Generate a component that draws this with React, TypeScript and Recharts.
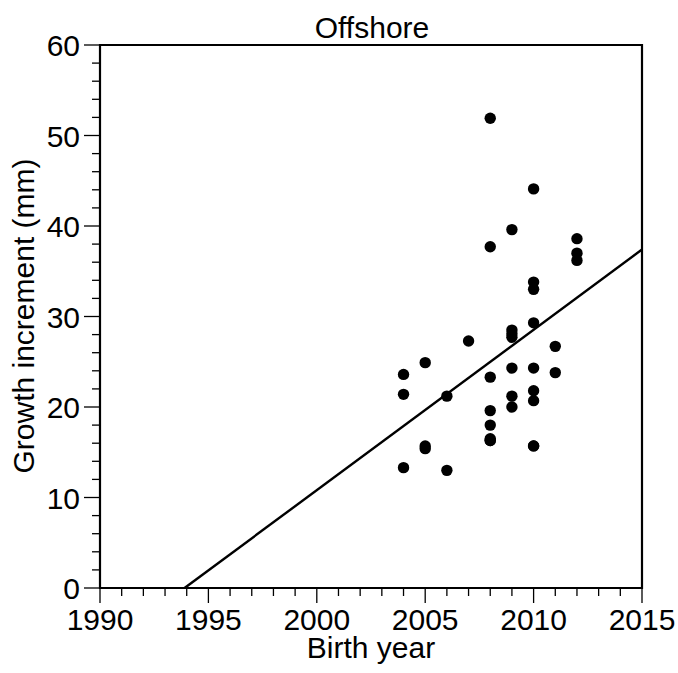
import React from 'react';
import { ScatterChart, Scatter, XAxis, YAxis, ReferenceArea, ReferenceLine } from 'recharts';

// birth year and growth increment (mm) of each fish
const BIRTH_YEARS = [
  2004, 2004, 2004,
  2005, 2005, 2005,
  2006, 2006,
  2007,
  2008, 2008, 2008, 2008, 2008, 2008, 2008, 2008,
  2009, 2009, 2009, 2009, 2009, 2009, 2009,
  2010, 2010, 2010, 2010, 2010, 2010, 2010, 2010, 2010,
  2011, 2011,
  2012, 2012, 2012,
];
const INCREMENTS = [
  23.6, 21.4, 13.3,
  24.9, 15.4, 15.7,
  21.2, 13.0,
  27.3,
  51.9, 37.7, 23.3, 19.6, 18.0, 16.3, 16.5, 16.3,
  39.6, 28.5, 28.1, 27.7, 24.3, 21.2, 20.0,
  44.1, 33.8, 33.0, 29.3, 24.3, 21.8, 20.7, 15.7, 15.7,
  26.7, 23.8,
  38.6, 37.0, 36.2,
];

// fitted regression line end points
const FIT_YEARS = [1993.9, 2015];
const FIT_VALUES = [0, 37.4];

const X_TICKS = [
  1990, 1991, 1992, 1993, 1994, 1995, 1996, 1997, 1998, 1999,
  2000, 2001, 2002, 2003, 2004, 2005, 2006, 2007, 2008, 2009,
  2010, 2011, 2012, 2013, 2014, 2015,
];
const Y_TICKS = [
  0, 2, 4, 6, 8, 10, 12, 14, 16, 18, 20, 22, 24, 26, 28, 30,
  32, 34, 36, 38, 40, 42, 44, 46, 48, 50, 52, 54, 56, 58, 60,
];

const FONT = '"Liberation Sans", Arial, Helvetica, sans-serif';
const FONT_SIZE = 30;

const points = BIRTH_YEARS.map((year, i) => ({ year, value: INCREMENTS[i] }));
const fitSegment = FIT_YEARS.map((x, i) => ({ x, y: FIT_VALUES[i] }));

const XTick = (props: any) => {
  const { x, y, payload } = props;
  const major = payload.value % 5 === 0;
  return (
    <g>
      <line x1={x} x2={x} y1={y} y2={y + (major ? 15 : 8)} stroke="#000" strokeWidth={1.3} />
      {major && (
        <text x={x} y={y + 42} textAnchor="middle" fontSize={FONT_SIZE} fontFamily={FONT} fill="#000">
          {payload.value}
        </text>
      )}
    </g>
  );
};

const YTick = (props: any) => {
  const { x, y, payload } = props;
  const major = payload.value % 10 === 0;
  return (
    <g>
      <line x1={x - (major ? 16 : 8)} x2={x} y1={y} y2={y} stroke="#000" strokeWidth={1.3} />
      {major && (
        <text x={x - 20} y={y + 11} textAnchor="end" fontSize={FONT_SIZE} fontFamily={FONT} fill="#000">
          {payload.value}
        </text>
      )}
    </g>
  );
};

const Dot = (props: any) => <circle cx={props.cx} cy={props.cy} r={5.7} fill="#000" />;

export default function App() {
  return (
    <div style={{ position: 'absolute', left: 0, top: 0, background: '#fff' }}>
      <ScatterChart width={678} height={673} margin={{ top: 45, right: 36, bottom: 0, left: 0 }}>
        <XAxis
          type="number"
          dataKey="year"
          domain={[1990, 2015]}
          ticks={X_TICKS}
          interval={0}
          height={85}
          axisLine={false}
          tickLine={false}
          tickSize={0}
          tickMargin={0}
          tick={<XTick />}
        />
        <YAxis
          type="number"
          dataKey="value"
          domain={[0, 60]}
          ticks={Y_TICKS}
          interval={0}
          width={100}
          axisLine={false}
          tickLine={false}
          tickSize={0}
          tickMargin={0}
          tick={<YTick />}
        />
        <ReferenceArea x1={1990} x2={2015} y1={0} y2={60} fill="none" stroke="#000" strokeWidth={2.2} />
        <ReferenceLine segment={fitSegment} stroke="#000" strokeWidth={2.4} />
        <Scatter data={points} shape={<Dot />} isAnimationActive={false} />
        <text x={372} y={38} textAnchor="middle" fontSize={FONT_SIZE} fontFamily={FONT} fill="#000">
          Offshore
        </text>
        <text x={371} y={658} textAnchor="middle" fontSize={FONT_SIZE} fontFamily={FONT} fill="#000">
          Birth year
        </text>
        <text
          x={0}
          y={0}
          transform="translate(34 316) rotate(-90)"
          textAnchor="middle"
          fontSize={FONT_SIZE}
          fontFamily={FONT}
          fill="#000"
        >
          Growth increment (mm)
        </text>
      </ScatterChart>
    </div>
  );
}
